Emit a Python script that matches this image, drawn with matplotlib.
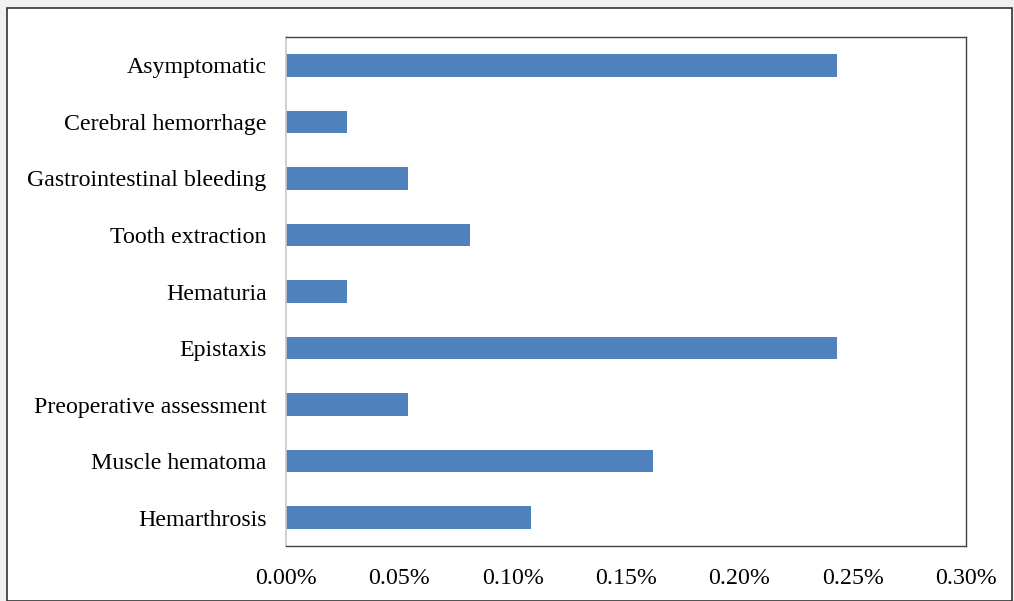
import matplotlib.pyplot as plt
from matplotlib.patches import Rectangle
from matplotlib.ticker import FuncFormatter

categories = ["Hemarthrosis", "Muscle hematoma", "Preoperative assessment", "Epistaxis",
              "Hematuria", "Tooth extraction", "Gastrointestinal bleeding",
              "Cerebral hemorrhage", "Asymptomatic"]
values = [0.108, 0.162, 0.054, 0.243, 0.027, 0.081, 0.054, 0.027, 0.243]
xticks = [0.0, 0.05, 0.10, 0.15, 0.20, 0.25, 0.30]

plt.rcParams["font.family"] = ["Liberation Serif", "DejaVu Serif"]

W, H = 1014, 601
fig = plt.figure(figsize=(W / 100, H / 100), dpi=100)
fig.patch.set_facecolor("#f0f0f0")
# white chart area with dark frame
fig.patches.append(Rectangle((7 / W, 0), 1005 / W, (H - 8) / H, transform=fig.transFigure,
                             facecolor="white", edgecolor="#333333", linewidth=1.2,
                             zorder=-10))

ax = fig.add_axes([286 / W, (H - 546) / H, 680 / W, 509 / H])
ax.set_facecolor("none")
ax.barh(range(len(categories)), values, height=0.4, color="#4f81bd")
ax.set_xlim(0, 0.30)
ax.set_ylim(-0.5, len(categories) - 0.5)
ax.set_yticks(range(len(categories)))
ax.set_yticklabels(categories)
ax.set_xticks(xticks)
ax.xaxis.set_major_formatter(FuncFormatter(lambda v, p: "%.2f%%" % v))
ax.tick_params(length=0, labelsize=17.2, colors="black")
ax.tick_params(axis="y", pad=14)
ax.tick_params(axis="x", pad=16)
for side in ["top", "right", "bottom"]:
    ax.spines[side].set_color("#404040")
    ax.spines[side].set_linewidth(1.0)
ax.spines["left"].set_color("#c8c8c8")
ax.spines["left"].set_linewidth(1.2)

fig.savefig("out.png", dpi=100, facecolor=fig.get_facecolor())
